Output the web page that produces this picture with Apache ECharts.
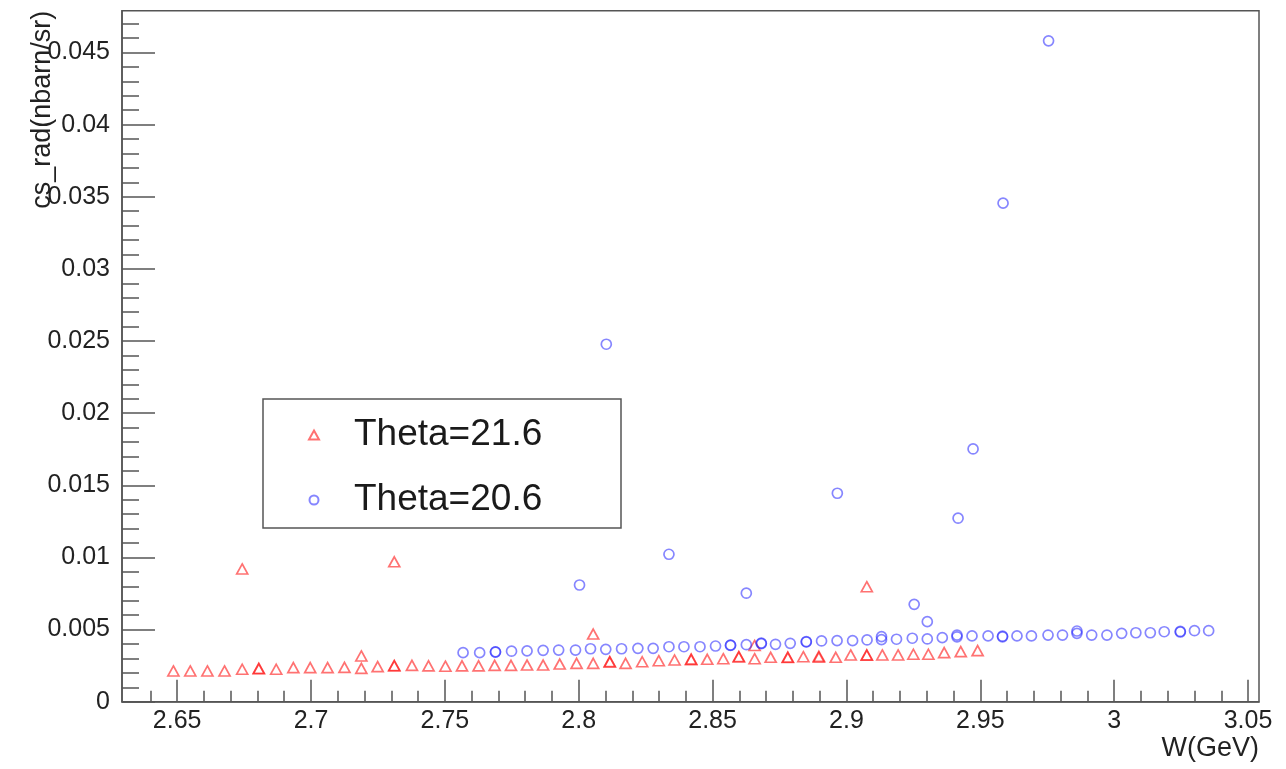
<!DOCTYPE html>
<html>
<head>
<meta charset="utf-8">
<script src="https://cdn.jsdelivr.net/npm/echarts@6/dist/echarts.min.js"></script>
<style>
html,body{margin:0;padding:0;background:#fff;}
#chart{width:1286px;height:769px;}
</style>
</head>
<body>
<div id="chart"></div>
<script>
// ---- data ----
const seriesNames = ['Theta=21.6', 'Theta=20.6'];

const redW = [
  2.6486, 2.6549, 2.6613, 2.6677, 2.6743, 2.6743, 2.6805, 2.6805, 2.6870, 2.6934,
  2.6997, 2.7062, 2.7125, 2.7188, 2.7188, 2.7249, 2.7311, 2.7311, 2.7311, 2.7377,
  2.7439, 2.7502, 2.7564, 2.7626, 2.7686, 2.7747, 2.7807, 2.7867, 2.7929, 2.7992,
  2.8054, 2.8054, 2.8116, 2.8116, 2.8175, 2.8237, 2.8299, 2.8358, 2.8420, 2.8420,
  2.8480, 2.8540, 2.8598, 2.8598, 2.8657, 2.8657, 2.8717, 2.8781, 2.8781, 2.8839,
  2.8897, 2.8897, 2.8960, 2.9016, 2.9076, 2.9076, 2.9076, 2.9134, 2.9193, 2.9250,
  2.9306, 2.9365, 2.9427, 2.9490
];
const redVal = [
  0.00213, 0.00213, 0.00213, 0.00213, 0.00225, 0.00920, 0.00228, 0.00231, 0.00225, 0.00236,
  0.00236, 0.00236, 0.00238, 0.00231, 0.00317, 0.00243, 0.00248, 0.00251, 0.00970, 0.00252,
  0.00248, 0.00246, 0.00248, 0.00248, 0.00252, 0.00252, 0.00254, 0.00254, 0.00261, 0.00266,
  0.00266, 0.00469, 0.00275, 0.00278, 0.00266, 0.00277, 0.00284, 0.00289, 0.00292, 0.00295,
  0.00294, 0.00298, 0.00310, 0.00313, 0.00298, 0.00390, 0.00308, 0.00306, 0.00309, 0.00312,
  0.00308, 0.00315, 0.00308, 0.00324, 0.00322, 0.00325, 0.00797, 0.00324, 0.00324, 0.00329,
  0.00329, 0.00340, 0.00347, 0.00354
];

const blueW = [
  2.7568, 2.7630, 2.7689, 2.7689, 2.7749, 2.7807, 2.7867, 2.7925, 2.7988, 2.8003,
  2.8044, 2.8101, 2.8103, 2.8160, 2.8221, 2.8278, 2.8337, 2.8337, 2.8393, 2.8453,
  2.8511, 2.8567, 2.8567, 2.8626, 2.8626, 2.8682, 2.8682, 2.8735, 2.8790, 2.8850,
  2.8850, 2.8907, 2.8965, 2.8966, 2.9023, 2.9077, 2.9131, 2.9131, 2.9187, 2.9246,
  2.9253, 2.9302, 2.9302, 2.9358, 2.9413, 2.9413, 2.9417, 2.9469, 2.9473, 2.9529,
  2.9583, 2.9583, 2.9585, 2.9637, 2.9691, 2.9753, 2.9755, 2.9807, 2.9861, 2.9861,
  2.9916, 2.9973, 3.0028, 3.0081, 3.0135, 3.0187, 3.0247, 3.0247, 3.0300, 3.0353
];
const blueVal = [
  0.00340, 0.00340, 0.00344, 0.00346, 0.00350, 0.00352, 0.00356, 0.00358, 0.00358, 0.00809,
  0.00367, 0.00363, 0.02478, 0.00367, 0.00370, 0.00370, 0.00381, 0.01022, 0.00381, 0.00381,
  0.00386, 0.00390, 0.00392, 0.00395, 0.00752, 0.00403, 0.00406, 0.00398, 0.00405, 0.00414,
  0.00417, 0.00421, 0.00423, 0.01445, 0.00423, 0.00428, 0.00430, 0.00451, 0.00433, 0.00440,
  0.00675, 0.00435, 0.00555, 0.00444, 0.00450, 0.00462, 0.01272, 0.00456, 0.01752, 0.00456,
  0.00450, 0.00454, 0.03456, 0.00456, 0.00456, 0.00462, 0.04581, 0.00462, 0.00474, 0.00490,
  0.00462, 0.00462, 0.00474, 0.00478, 0.00478, 0.00485, 0.00483, 0.00487, 0.00492, 0.00492
];

const xMajorTicks = [2.65, 2.7, 2.75, 2.8, 2.85, 2.9, 2.95, 3, 3.05];
const xMinorTicks = [2.64, 2.66, 2.67, 2.68, 2.69, 2.71, 2.72, 2.73, 2.74, 2.76, 2.77, 2.78, 2.79,
  2.81, 2.82, 2.83, 2.84, 2.86, 2.87, 2.88, 2.89, 2.91, 2.92, 2.93, 2.94, 2.96, 2.97, 2.98, 2.99,
  3.01, 3.02, 3.03, 3.04];
const yMajorTicks = [0, 0.005, 0.01, 0.015, 0.02, 0.025, 0.03, 0.035, 0.04, 0.045];
const yMinorTicks = [0.001, 0.002, 0.003, 0.004, 0.006, 0.007, 0.008, 0.009, 0.011, 0.012, 0.013,
  0.014, 0.016, 0.017, 0.018, 0.019, 0.021, 0.022, 0.023, 0.024, 0.026, 0.027, 0.028, 0.029,
  0.031, 0.032, 0.033, 0.034, 0.036, 0.037, 0.038, 0.039, 0.041, 0.042, 0.043, 0.044, 0.046, 0.047];

const xTitle = 'W(GeV)';
const yTitle = 'cs_rad(nbarn/sr)';

// ---- chart ----
const X_MIN = 2.6294, X_MAX = 3.0541, Y_MIN = 0, Y_MAX = 0.0479;
const FONT = 'Liberation Sans, Arial, Helvetica, sans-serif';
const AXIS_COLOR = '#555';

const chart = echarts.init(document.getElementById('chart'), null, {renderer: 'canvas'});

function zip(a, b) { return a.map((v, i) => [v, b[i]]); }

const option = {
  animation: false,
  backgroundColor: '#fff',
  grid: {
    left: 122, right: 27, top: 10.7, bottom: 67.3,
    containLabel: false, outerBoundsMode: 'none',
    show: true, borderColor: AXIS_COLOR, borderWidth: 1.5, backgroundColor: 'transparent'
  },
  legend: {
    orient: 'vertical',
    left: 303, top: 410,
    itemWidth: 10, itemHeight: 9,
    itemGap: 25,
    selectedMode: false,
    data: seriesNames,
    textStyle: {
      fontFamily: FONT, fontSize: 37, color: '#1a1a1a',
      lineHeight: 40, padding: [0, 0, 0, 30]
    }
  },
  graphic: [{
    type: 'rect',
    shape: {x: 263, y: 399, width: 358, height: 129},
    style: {fill: 'transparent', stroke: '#555', lineWidth: 1.5},
    z: 0
  }, {
    type: 'text',
    x: 43, y: 10.7,
    rotation: Math.PI / 2,
    style: {
      text: yTitle, fontFamily: FONT, fontSize: 27, fill: '#222',
      align: 'right', verticalAlign: 'middle'
    },
    z: 5
  }],
  xAxis: [{
    type: 'value', min: X_MIN, max: X_MAX, position: 'bottom',
    name: xTitle, nameLocation: 'end', nameGap: 0,
    nameTextStyle: {fontFamily: FONT, fontSize: 27, color: '#222', align: 'right', verticalAlign: 'top', padding: [33, 0, 0, 0]},
    axisLine: {show: true, onZero: false, lineStyle: {color: AXIS_COLOR, width: 1.5}},
    axisTick: {show: true, inside: true, length: 22, customValues: xMajorTicks, lineStyle: {color: AXIS_COLOR, width: 1.5}},
    axisLabel: {show: true, customValues: xMajorTicks, margin: 7, fontFamily: FONT, fontSize: 25, color: '#222'},
    splitLine: {show: false}
  }, {
    type: 'value', min: X_MIN, max: X_MAX, position: 'bottom',
    axisLine: {show: false, onZero: false},
    axisTick: {show: true, inside: true, length: 11, customValues: xMinorTicks, lineStyle: {color: AXIS_COLOR, width: 1.5}},
    axisLabel: {show: false},
    splitLine: {show: false}
  }],
  yAxis: [{
    type: 'value', min: Y_MIN, max: Y_MAX, position: 'left',
    axisLine: {show: true, onZero: false, lineStyle: {color: AXIS_COLOR, width: 1.5}},
    axisTick: {show: true, inside: true, length: 33, customValues: yMajorTicks, lineStyle: {color: AXIS_COLOR, width: 1.5}},
    axisLabel: {show: true, customValues: yMajorTicks, margin: 12, fontFamily: FONT, fontSize: 25, color: '#222'},
    splitLine: {show: false}
  }, {
    type: 'value', min: Y_MIN, max: Y_MAX, position: 'left',
    axisLine: {show: false, onZero: false},
    axisTick: {show: true, inside: true, length: 17, customValues: yMinorTicks, lineStyle: {color: AXIS_COLOR, width: 1.5}},
    axisLabel: {show: false},
    splitLine: {show: false}
  }],
  series: [{
    name: seriesNames[0],
    type: 'scatter',
    xAxisIndex: 0, yAxisIndex: 0,
    symbol: 'triangle',
    symbolSize: [11, 10],
    itemStyle: {color: 'rgba(255,255,255,0)', borderColor: 'rgba(255,20,20,0.75)', borderWidth: 1.7},
    emphasis: {disabled: true},
    data: zip(redW, redVal),
    z: 3
  }, {
    name: seriesNames[1],
    type: 'scatter',
    xAxisIndex: 0, yAxisIndex: 0,
    symbol: 'circle',
    symbolSize: 10,
    itemStyle: {color: 'rgba(255,255,255,0)', borderColor: 'rgba(40,40,255,0.7)', borderWidth: 1.7},
    emphasis: {disabled: true},
    data: zip(blueW, blueVal),
    z: 3
  }]
};
chart.setOption(option);
</script>
</body>
</html>
